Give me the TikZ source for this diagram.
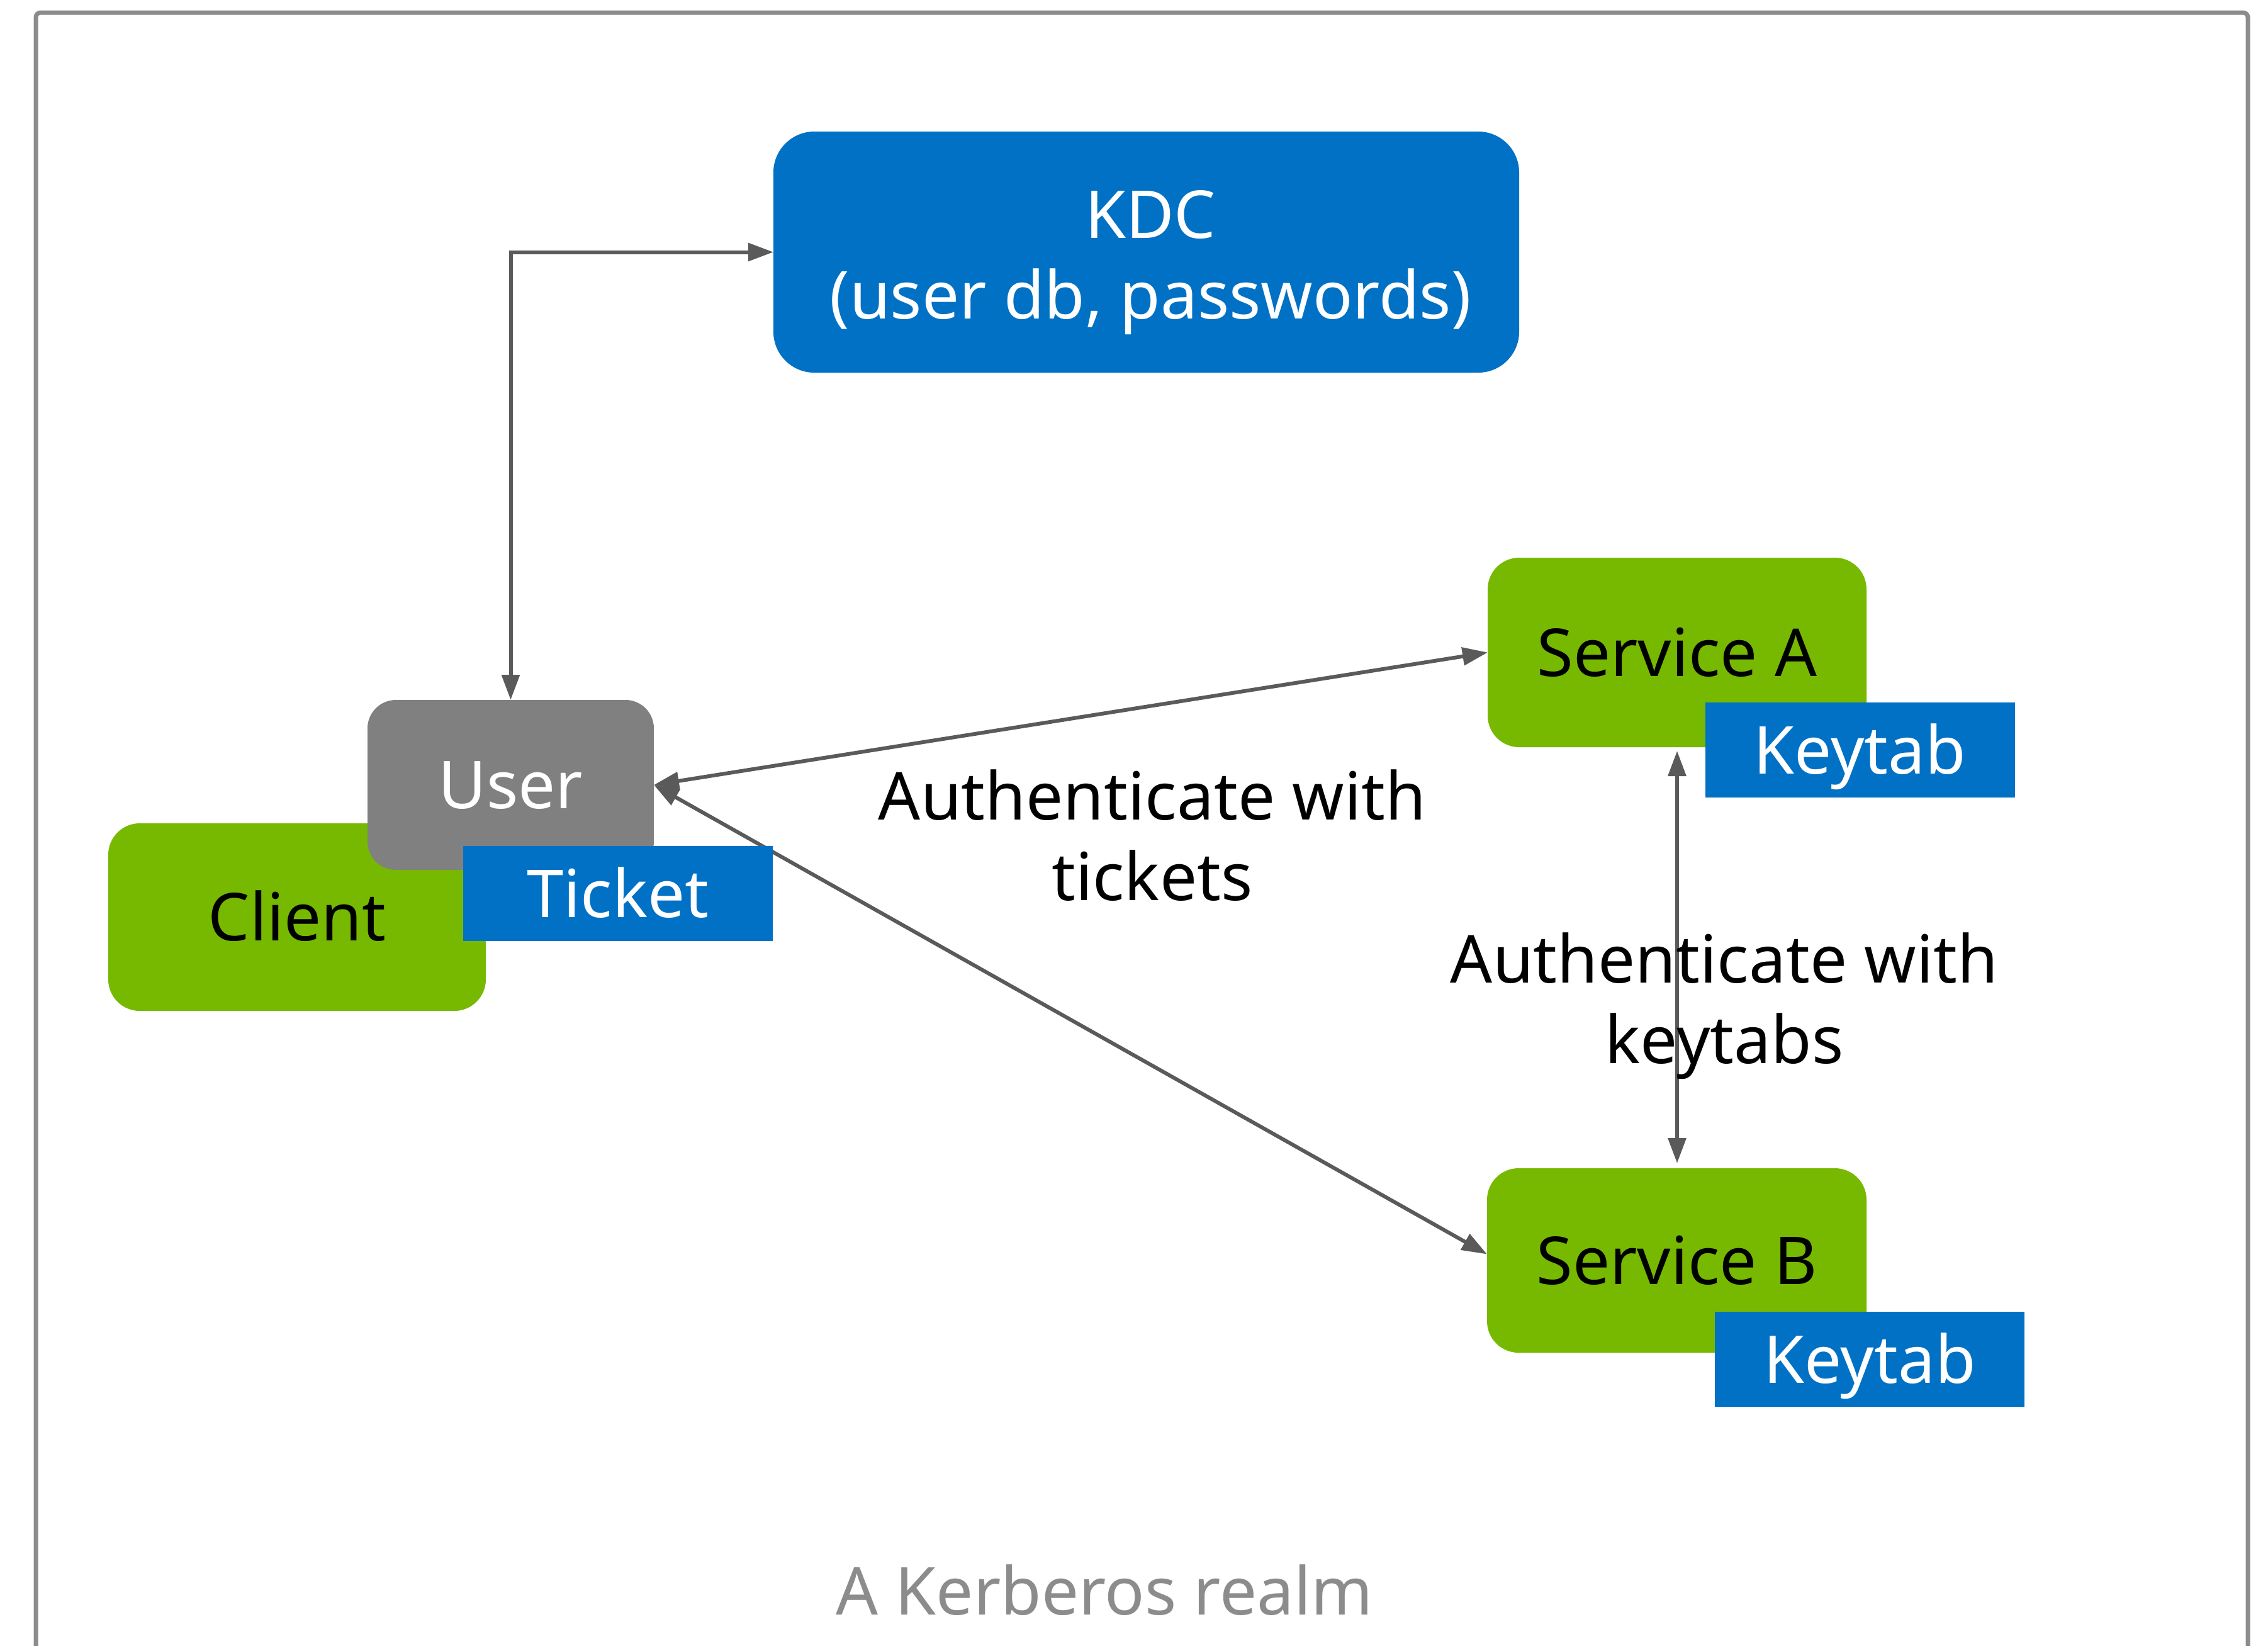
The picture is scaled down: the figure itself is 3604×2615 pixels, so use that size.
\documentclass[tikz,border=0pt]{standalone}
\usepackage{fontspec}
\setmainfont{Noto Sans}
\usetikzlibrary{arrows.meta,calc}
\definecolor{nvblue}{HTML}{0071C5}
\definecolor{nvgreen}{HTML}{76B900}
\definecolor{usergray}{HTML}{808080}
\definecolor{arrowgray}{HTML}{5A5A5A}
\definecolor{framegray}{HTML}{8C8C8C}
\begin{document}
\begin{tikzpicture}[x=0.2pt,y=-0.2pt,
  box/.style={inner sep=0pt, outer sep=0pt, text height=15pt, text depth=0pt, font=\fontsize{21pt}{25.6pt}\selectfont},
  greenbox/.style={box, fill=nvgreen, rounded corners=10pt, text=black},
  bluetag/.style={box, fill=nvblue, text=white, minimum width=98.4pt, minimum height=30.2pt},
  lbl/.style={font=\fontsize{21pt}{25.6pt}\selectfont, inner sep=0pt, align=center},
  conn/.style={draw=arrowgray, line width=1.2pt, {Triangle[length=8pt,width=5.6pt]}-{Triangle[length=8pt,width=5.6pt]}}
]
\useasboundingbox (0,0) rectangle (3604,2615);
\clip (0,0) rectangle (3604,2615);
\draw[framegray, line width=1.4pt, rounded corners=1.5pt] (57,20) rectangle (3572,2700);

\node[greenbox, minimum width=120pt, minimum height=59.6pt] (client) at (472,1457) {Client};
\node[box, fill=usergray, text=white, rounded corners=9pt, minimum width=91pt, minimum height=54pt] (user) at (811.5,1247) {User};
\node[box, fill=nvblue, rounded corners=13pt, minimum width=237pt, minimum height=76.6pt] (kdc) at (1821.5,400.5) {};
\node[lbl, text=white, anchor=base] (kdctext) at (1828,506) {KDC\\(user db, passwords)};
\node[greenbox, minimum width=120.4pt, minimum height=60.2pt] (sa) at (2665,1036.5) {Service A};
\node[greenbox, minimum width=120.6pt, minimum height=58.6pt] (sb) at (2664.5,2002.5) {Service B};

\draw[conn] (user.north) |- (kdc.west);
\draw[conn] (user.east) -- (sa.west);
\draw[conn] (user.east) -- ([yshift=2pt]sb.west);
\draw[conn, shorten <=1.2pt, shorten >=1.6pt] (sa.south) -- (sa.south |- sb.north);

\node[bluetag] (ticket) at (982,1419.5) {Ticket};
\node[bluetag] (ka) at (2955.5,1191.5) {Keytab};
\node[bluetag] (kb) at (2971,2159.5) {Keytab};

\node[lbl, anchor=base] (ltickets) at (1831,1430) {Authenticate with\\tickets};
\node[lbl, anchor=base] (lkeytabs) at (2740,1689) {Authenticate with\\keytabs};
\node[lbl, text=framegray, anchor=base] (realm) at (1755,2565) {A Kerberos realm};
\end{tikzpicture}
\end{document}
